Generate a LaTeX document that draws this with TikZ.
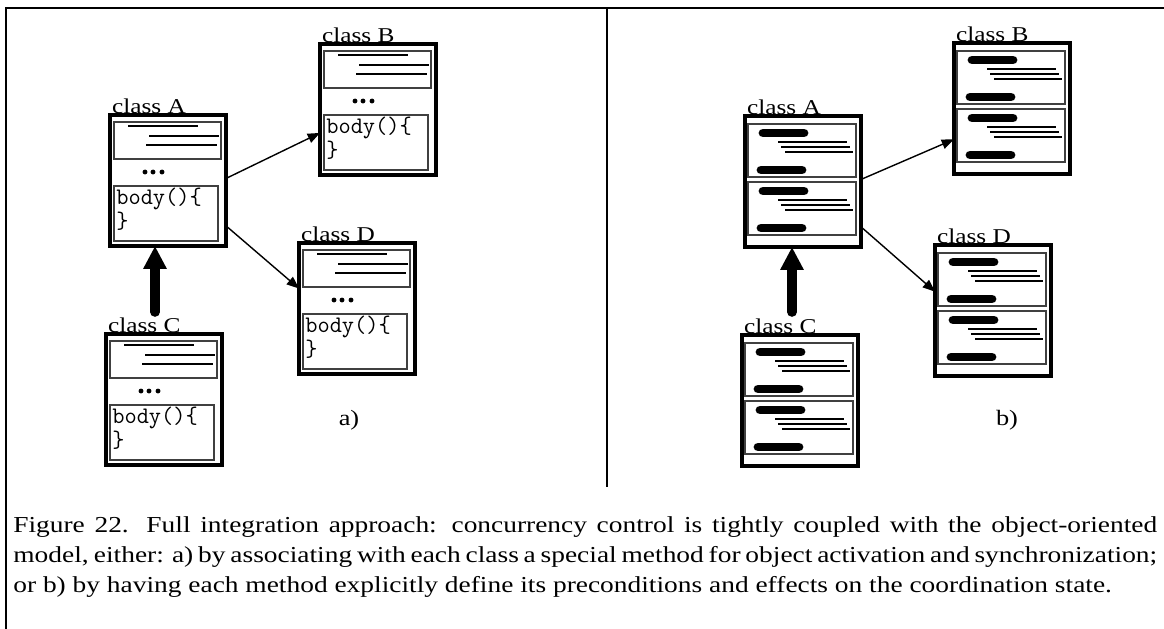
\documentclass[tikz,border=0pt]{standalone}
\usepackage{fontspec}
\setmainfont{Liberation Serif}[FakeStretch=1.2]
\usetikzlibrary{arrows.meta}

\tikzset{
  classbox/.style={draw, line width=2.3pt, minimum width=2.32cm, minimum height=2.62cm,
    inner sep=0pt, outer sep=0pt, anchor=north west},
  classname/.style={anchor=base west, inner sep=0pt, font=\fontsize{12}{14}\selectfont},
  part/.style={draw=black!75, line width=0.6pt},
  code/.style={anchor=north west, inner sep=0pt, align=left, font=\ttfamily\fontsize{13.5}{11.4}\selectfont},
  pill/.style={line width=5pt, line cap=round},
  txtline/.style={line width=1.1pt},
  condline/.style={line width=0.9pt},
  call/.style={line width=0.8pt, -{Triangle[length=7pt,width=5.5pt]}},
  inherit/.style={line width=5.5pt, line cap=round, -{Triangle[length=13pt,width=12.5pt]}},
}

% a) class with one body() method
\newcommand\bodyclass[4]{%
  \node[classbox] (#1) at (#2,#3) {};
  \node[classname] at ([xshift=1pt,yshift=0.8pt]#1.north west) {#4};
  \begin{scope}[shift={(#1.north west)}]
    \draw[part] (4,7) rectangle (111,44);
    \draw[txtline] (18,11) -- (88,11) (39,21) -- (109,21) (36,30) -- (107,30);
    \foreach \d in {35,43,52} \fill (\d,57) circle (1.4pt);
    \draw[part] (4,71) rectangle (108,126);
    \node[code] at (6,73) {body()\{\\\}};
  \end{scope}
}

% b) class whose methods carry their own conditions
\newcommand\methodclass[4]{%
  \node[classbox] (#1) at (#2,#3) {};
  \node[classname] at ([xshift=1pt,yshift=0.8pt]#1.north west) {#4};
  \begin{scope}[shift={(#1.north west)}]
    \foreach \by in {8,66} {
      \draw[part] (3,\by) rectangle (111,\by+53);
      \draw[pill] (18,\by+9) -- (59,\by+9);
      \draw[condline] (33,\by+18) -- (102,\by+18) (36,\by+23) -- (105,\by+23) (40,\by+28) -- (108,\by+28);
      \draw[pill] (16,\by+46) -- (57,\by+46);
    }
  \end{scope}
}

\begin{document}
\begin{tikzpicture}[x=0.02cm, y=-0.02cm]
  \useasboundingbox (0,0) rectangle (1164,629);
  % frame and divider
  \draw[line width=1.7pt] (6,629) -- (6,8) -- (1164,8);
  \draw[line width=0.6pt] (607,8) -- (607,487);

  % a)
  \bodyclass{lA}{110}{115}{class A}
  \bodyclass{lB}{320}{44}{class B}
  \bodyclass{lC}{106}{334}{class C}
  \bodyclass{lD}{299}{243}{class D}
  \draw[call] (lA.2) -- (lB.202);
  \draw[call] (lA.-38) -- (lD.161);
  \coordinate (lCtail) at (155,312);
  \draw[inherit] (lCtail) -- (lCtail |- lA.south);
  \node[font=\fontsize{12.5}{15}\selectfont] (tagA) at (349,420) {a)};

  % b)
  \methodclass{rA}{745}{116}{class A}
  \methodclass{rB}{954}{43}{class B}
  \methodclass{rC}{742}{335}{class C}
  \methodclass{rD}{935}{245}{class D}
  \draw[call] (rA.2) -- (rB.208);
  \draw[call] (rA.-38) -- (rD.162);
  \coordinate (rCtail) at (792,312);
  \draw[inherit] (rCtail) -- (rCtail |- rA.south);
  \node[font=\fontsize{12.5}{15}\selectfont] (tagB) at (1007,420) {b)};

  % caption
  \node[anchor=north west, inner sep=0pt, text width=22.88cm, align=justify,
        font=\fontsize{13}{17.2}\selectfont] (caption) at (13,516)
    {Figure 22. Full integration approach: concurrency control is tightly coupled with the object-oriented model, either: a) by associating with each class a special method for object activation and synchronization; or b) by having each method explicitly define its preconditions and effects on the coordination state.};
\end{tikzpicture}
\end{document}
